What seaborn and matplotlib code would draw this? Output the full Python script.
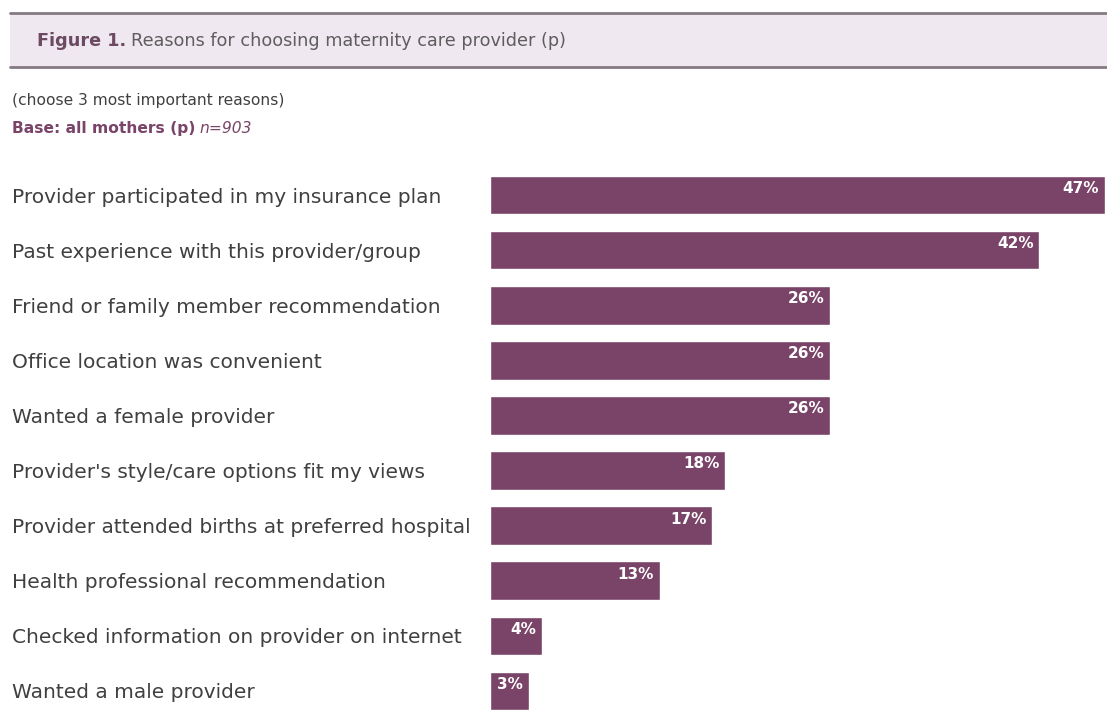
import pandas as pd
import matplotlib.pyplot as plt
import seaborn as sns
from matplotlib.patches import Rectangle

reasons = [
    "Provider participated in my insurance plan",
    "Past experience with this provider/group",
    "Friend or family member recommendation",
    "Office location was convenient",
    "Wanted a female provider",
    "Provider's style/care options fit my views",
    "Provider attended births at preferred hospital",
    "Health professional recommendation",
    "Checked information on provider on internet",
    "Wanted a male provider",
]
percents = [47, 42, 26, 26, 26, 18, 17, 13, 4, 3]

BAR = "#7a4468"
TEXT = "#404040"

df = pd.DataFrame({"reason": reasons, "pct": percents})

sns.set_style("white")
plt.rcParams["font.family"] = ["DejaVu Sans"]

fig = plt.figure(figsize=(11.07, 7.25), dpi=100, facecolor="white")
renderer = fig.canvas.get_renderer()


def text_after(prev, gap_px, s, **kw):
    # put a new piece of text right after the previous one
    bb = prev.get_window_extent(renderer)
    x = (bb.x1 + gap_px) / fig.bbox.width
    return fig.text(x, prev.get_position()[1], s, **kw)


# header band
fig.patches.append(Rectangle((0.009, 0.908), 0.991, 0.074, transform=fig.transFigure,
                             facecolor="#f0e8f0", edgecolor="none"))
for yy in (0.982, 0.908):
    fig.add_artist(plt.Line2D([0.009, 1.0], [yy, yy], color="#857a82", lw=2,
                              transform=fig.transFigure))
t1 = fig.text(0.033, 0.944, "Figure 1.", fontsize=12.7, fontweight="bold", color="#6b4a62",
              va="center", ha="left")
text_after(t1, 5, "Reasons for choosing maternity care provider (p)", fontsize=12.7,
           color="#5e5e5e", va="center", ha="left")
fig.text(0.011, 0.862, "(choose 3 most important reasons)", fontsize=11.2, color=TEXT,
         va="center", ha="left")
b1 = fig.text(0.011, 0.823, "Base: all mothers (p)", fontsize=11.2, fontweight="bold",
              color="#7a4468", va="center", ha="left")
text_after(b1, 4, "n=903", fontsize=11.2, style="italic", color="#7a4468",
           va="center", ha="left")

ax = fig.add_axes([0.4425, 0.009, 0.5555, 0.76])
sns.barplot(data=df, x="pct", y="reason", color=BAR, saturation=1, width=0.7, ax=ax)
ax.set_xlim(0, 47)
ax.set_ylim(9.5, -0.5)
ax.set_xlabel("")
ax.set_ylabel("")
ax.set_xticks([])
sns.despine(ax=ax, left=True, bottom=True)
ax.tick_params(axis="y", length=0, pad=8, labelsize=14.5, labelcolor=TEXT)
for lab in ax.get_yticklabels():
    lab.set_horizontalalignment("left")
    lab.set_x(-0.759)

for i, v in enumerate(percents):
    ax.text(v - 0.45, i - 0.12, f"{v}%", color="white", fontweight="bold", fontsize=11,
            ha="right", va="center")

fig.savefig("out.png", dpi=100, facecolor="white")
